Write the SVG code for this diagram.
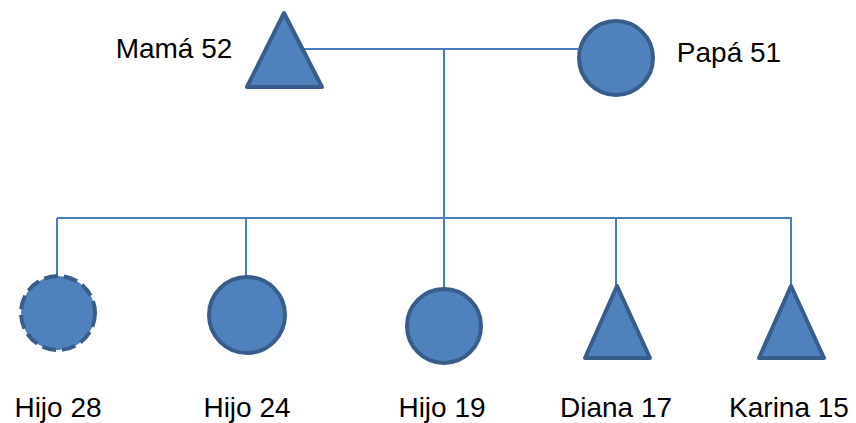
<svg xmlns="http://www.w3.org/2000/svg" width="856" height="423" viewBox="0 0 856 423">
  <style>
    .shape { fill: #4F81BD; stroke: #385D8A; stroke-width: 4; stroke-linejoin: round; }
    .dashed { stroke-dasharray: 14 6; }
    .link { fill: none; stroke: #4A7EBB; stroke-width: 2; }
    .label { font-family: "Liberation Sans", Arial, sans-serif; font-size: 28px; fill: #000; text-anchor: middle; }
  </style>
  <rect width="856" height="423" fill="#fff"/>

  <g id="connectors">
    <path class="link" d="M303 49 H578"/>
    <path class="link" d="M444 49 V218"/>
    <path class="link" d="M57 218 H792"/>
    <path class="link" d="M57 218 V275"/>
    <path class="link" d="M246 218 V276"/>
    <path class="link" d="M444 218 V288"/>
    <path class="link" d="M616 218 V286"/>
    <path class="link" d="M791 218 V286"/>
  </g>

  <g id="mama">
    <polygon class="shape" points="284,13 247,87 322,87"/>
    <text class="label" x="174" y="58">Mamá 52</text>
  </g>
  <g id="papa">
    <circle class="shape" cx="616" cy="58" r="37"/>
    <text class="label" x="729" y="62">Papá 51</text>
  </g>
  <g id="hijo28">
    <circle class="shape dashed" cx="58" cy="313" r="37"/>
    <text class="label" x="58" y="417">Hijo 28</text>
  </g>
  <g id="hijo24">
    <circle class="shape" cx="247" cy="315" r="38"/>
    <text class="label" x="247" y="417">Hijo 24</text>
  </g>
  <g id="hijo19">
    <circle class="shape" cx="444" cy="326" r="37"/>
    <text class="label" x="442" y="417">Hijo 19</text>
  </g>
  <g id="diana">
    <polygon class="shape" points="617,286 585,358 650,358"/>
    <text class="label" x="616" y="417">Diana 17</text>
  </g>
  <g id="karina">
    <polygon class="shape" points="791,286 759,358 824,358"/>
    <text class="label" x="789" y="417">Karina 15</text>
  </g>
</svg>
